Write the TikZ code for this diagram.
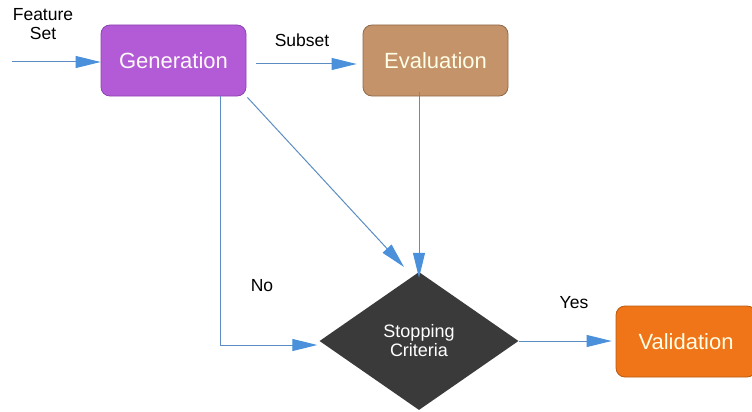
\documentclass[tikz,border=0pt]{standalone}
\usepackage{fontspec}
\setmainfont{Liberation Sans}
\usetikzlibrary{arrows.meta,shapes.geometric}
\definecolor{gen}{HTML}{B35BD6}
\definecolor{genb}{HTML}{8E44B0}
\definecolor{eva}{HTML}{C4936A}
\definecolor{evab}{HTML}{8F6A4A}
\definecolor{val}{HTML}{EF7518}
\definecolor{valb}{HTML}{B85A12}
\definecolor{dia}{HTML}{3A3A3A}
\definecolor{ln}{HTML}{5B8CC2}
\definecolor{tipc}{HTML}{4A90DA}
\begin{document}
\begin{tikzpicture}[x=1pt,y=-1pt,
  box/.style={rectangle,rounded corners=9pt,minimum width=145pt,minimum height=71pt,draw=#1,line width=0.8pt,font=\fontsize{22}{22}\selectfont},
  conn/.style={draw=ln,line width=1pt,-{Triangle[length=25pt,width=12pt,fill=tipc,color=tipc]}},
  lab/.style={font=\fontsize{17.5}{19}\selectfont,text=black,align=center}]
\useasboundingbox (0,0) rectangle (752,412);
\node[box=genb,fill=gen,text=white!92!pink] (gen) at (173.5,60.5) {Generation};
\node[box=evab,fill=eva,text=white!90!yellow] (eva) at (435.5,60.5) {Evaluation};
\node[box=valb,fill=val,text=white!90!yellow,minimum width=140pt] (val) at (686,341.5) {Validation};
\node[diamond,fill=dia,minimum width=199pt,minimum height=138pt,inner sep=0pt,text=white,align=center,font=\fontsize{18}{19}\selectfont] (sc) at (419,341) {Stopping\\Criteria};
\coordinate (in) at (12,62);
\coordinate (bend) at (220,345);
\coordinate (dtip) at (404,267);
\node[lab] (fs) at (43,24) {Feature\\Set};
\node[lab] (sub) at (302,40) {Subset};
\node[lab] (no) at (262,286) {No};
\node[lab] (yes) at (574,303) {Yes};
\draw[conn] (in) -- (gen.west |- in);
\draw[conn] ([xshift=10pt]gen.east |- 0,64) -- ([xshift=-6pt]eva.west |- 0,64);
\draw[conn] ([xshift=1pt,yshift=-1pt]gen.south east) -- (dtip);
\draw[conn] ([yshift=4pt]eva.south -| sc.north) -- ([yshift=-6pt]sc.north);
\draw[conn] (gen.south -| bend) -- (bend) -- ([xshift=-2pt]sc.west |- bend);
\draw[conn] (sc.east) -- ([xshift=-4pt]val.west |- sc.east);
\end{tikzpicture}
\end{document}
